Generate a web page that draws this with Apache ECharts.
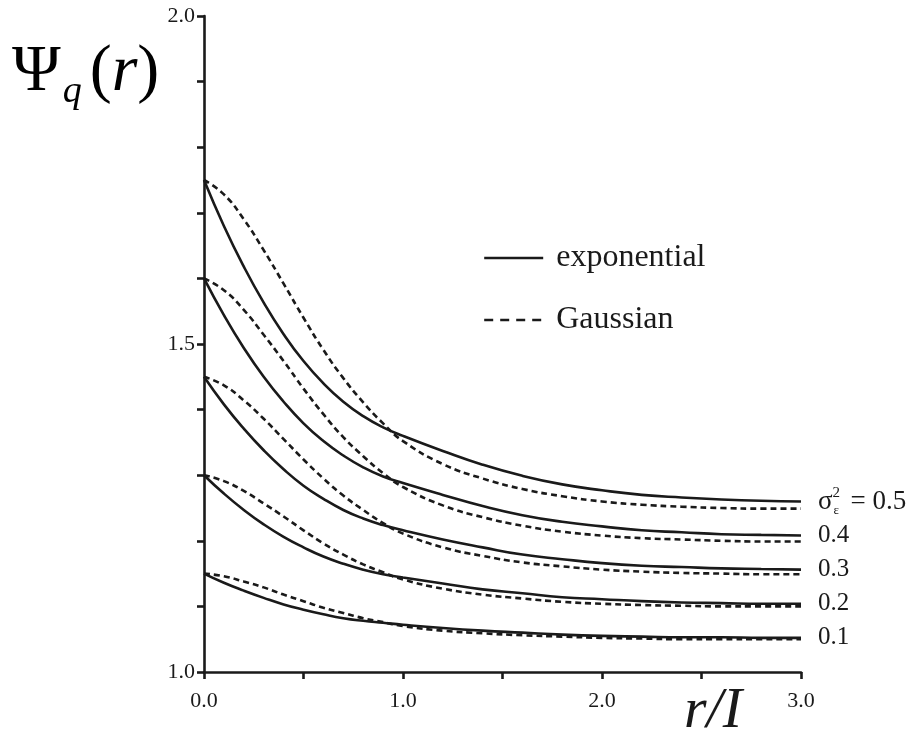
<!DOCTYPE html>
<html>
<head>
<meta charset="utf-8">
<title>Psi_q(r)</title>
<script src="https://cdn.jsdelivr.net/npm/echarts@6/dist/echarts.min.js"></script>
<style>
  html, body { margin: 0; padding: 0; background: #fff; }
  #chart { width: 911px; height: 730px; }
</style>
</head>
<body>
<div id="chart"></div>
<script>
// r/I sample points
var rVals = [0, 0.1, 0.2, 0.3, 0.4, 0.5, 0.6, 0.7, 0.8, 0.9, 1.0, 1.2, 1.4, 1.6, 1.8, 2.0, 2.2, 2.4, 2.6, 2.8, 3.0];

// exponential (solid)
var exp05 = [1.750, 1.680, 1.618, 1.563, 1.515, 1.474, 1.440, 1.412, 1.390, 1.373, 1.360, 1.337, 1.316, 1.299, 1.286, 1.277, 1.270, 1.266, 1.263, 1.261, 1.260];
var exp04 = [1.600, 1.544, 1.494, 1.450, 1.412, 1.379, 1.352, 1.330, 1.312, 1.298, 1.288, 1.270, 1.253, 1.239, 1.229, 1.222, 1.216, 1.213, 1.210, 1.209, 1.208];
var exp03 = [1.450, 1.408, 1.371, 1.338, 1.309, 1.284, 1.264, 1.247, 1.234, 1.224, 1.216, 1.202, 1.190, 1.179, 1.172, 1.166, 1.162, 1.160, 1.158, 1.157, 1.156];
var exp02 = [1.300, 1.272, 1.247, 1.225, 1.206, 1.190, 1.176, 1.165, 1.156, 1.149, 1.144, 1.135, 1.126, 1.120, 1.114, 1.111, 1.108, 1.106, 1.105, 1.104, 1.104];
var exp01 = [1.150, 1.136, 1.124, 1.113, 1.103, 1.095, 1.088, 1.082, 1.078, 1.075, 1.072, 1.067, 1.063, 1.060, 1.057, 1.055, 1.054, 1.053, 1.053, 1.052, 1.052];

// Gaussian (dashed)
var gau05 = [1.750, 1.728, 1.690, 1.643, 1.592, 1.540, 1.491, 1.448, 1.411, 1.379, 1.352, 1.317, 1.295, 1.279, 1.268, 1.260, 1.255, 1.252, 1.250, 1.249, 1.249];
var gau04 = [1.600, 1.582, 1.552, 1.514, 1.474, 1.432, 1.393, 1.358, 1.329, 1.303, 1.282, 1.254, 1.236, 1.223, 1.214, 1.208, 1.204, 1.202, 1.200, 1.199, 1.199];
var gau03 = [1.450, 1.437, 1.414, 1.386, 1.355, 1.324, 1.295, 1.269, 1.247, 1.227, 1.211, 1.190, 1.177, 1.167, 1.161, 1.156, 1.153, 1.151, 1.150, 1.149, 1.149];
var gau02 = [1.300, 1.291, 1.276, 1.257, 1.237, 1.216, 1.196, 1.179, 1.164, 1.152, 1.141, 1.127, 1.118, 1.112, 1.107, 1.104, 1.102, 1.101, 1.100, 1.100, 1.100];
var gau01 = [1.150, 1.146, 1.138, 1.129, 1.118, 1.108, 1.098, 1.090, 1.082, 1.076, 1.070, 1.063, 1.059, 1.056, 1.054, 1.052, 1.051, 1.050, 1.050, 1.050, 1.050];

var expSets = [exp05, exp04, exp03, exp02, exp01];
var gauSets = [gau05, gau04, gau03, gau02, gau01];
var sigmaLabels = ['0.5', '0.4', '0.3', '0.2', '0.1'];

var serif = '"Liberation Serif", "DejaVu Serif", serif';
var ink = '#1a1a1a';

function toPairs(ys) {
    var out = [];
    for (var i = 0; i < rVals.length; i++)
        out.push([rVals[i], ys[i]]);
    return out;
}

function lineSeries(name, ys, dashed, endText) {
    var s = {
        name: name,
        type: 'line',
        data: toPairs(ys),
        smooth: 0.5,
        symbol: 'none',
        silent: true,
        itemStyle: { color: ink },
        lineStyle: { color: ink, width: 2.6, type: dashed ? [6, 4] : 'solid' },
        z: dashed ? 2 : 3
    };
    if (endText) {
        s.endLabel = {
            show: true,
            distance: 17,
            formatter: function () { return endText; },
            fontFamily: serif,
            fontSize: 25,
            color: ink,
            rich: {
                s: { fontFamily: serif, fontSize: 27, color: ink, lineHeight: 32 },
                p: { fontFamily: serif, fontSize: 15, color: ink, verticalAlign: 'top', width: 1, lineHeight: 32 },
                e: { fontFamily: serif, fontSize: 13, color: ink, verticalAlign: 'bottom', width: 17, lineHeight: 32 },
                n: { fontFamily: serif, fontSize: 27, color: ink, lineHeight: 32 }
            }
        };
    }
    return s;
}

var series = [];
for (var k = 0; k < expSets.length; k++) {
    var txt = k === 0 ? '{s|σ}{p|2}{e|ε}{n|= ' + sigmaLabels[k] + '}' : sigmaLabels[k];
    series.push(lineSeries('exponential', expSets[k], false, txt));
}
for (var k = 0; k < gauSets.length; k++)
    series.push(lineSeries('Gaussian', gauSets[k], true, null));

var chart = echarts.init(document.getElementById('chart'));
var option = {
    animation: false,
    backgroundColor: '#fff',
    grid: { left: 204, top: 16, width: 597, height: 656 },
    legend: {
        orient: 'vertical',
        left: 483,
        top: 242,
        padding: 0,
        itemWidth: 59,
        itemHeight: 14,
        itemGap: 30,
        selectedMode: false,
        itemStyle: { opacity: 0 },
        formatter: function (name) { return ' ' + name; },
        textStyle: { fontFamily: serif, fontSize: 32, color: ink },
        data: [
            { name: 'exponential', lineStyle: { width: 2.4 } },
            { name: 'Gaussian', lineStyle: { width: 2.4, type: [9, 7] } }
        ]
    },
    xAxis: {
        type: 'value',
        min: 0,
        max: 3,
        interval: 0.5,
        axisLine: { show: true, lineStyle: { color: ink, width: 2.6 } },
        axisTick: { show: true, length: 7, lineStyle: { color: ink, width: 2.6 } },
        splitLine: { show: false },
        axisLabel: {
            margin: 18,
            fontFamily: serif,
            fontSize: 22,
            color: ink,
            formatter: function (v) { return Math.abs(v - Math.round(v)) < 1e-6 ? v.toFixed(1) : ''; }
        }
    },
    yAxis: {
        type: 'value',
        min: 1,
        max: 2,
        interval: 0.1,
        axisLine: { show: true, lineStyle: { color: ink, width: 2.6 } },
        axisTick: { show: true, length: 7, lineStyle: { color: ink, width: 2.6 } },
        splitLine: { show: false },
        axisLabel: {
            margin: 9,
            fontFamily: serif,
            fontSize: 22,
            color: ink,
            formatter: function (v) {
                var t = v * 2;
                return Math.abs(t - Math.round(t)) < 1e-6 ? v.toFixed(1) : '';
            }
        }
    },
    graphic: [
        {
            type: 'text', left: 12, top: 40,
            style: {
                text: '{a|Ψ}{q|q}{a|(}{i|r}{a|)}',
                rich: {
                    a: { fontFamily: serif, fontSize: 66, color: ink, lineHeight: 76 },
                    i: { fontFamily: serif, fontSize: 66, fontStyle: 'italic', color: ink, lineHeight: 76 },
                    q: { fontFamily: serif, fontSize: 38, fontStyle: 'italic', color: ink, verticalAlign: 'bottom', lineHeight: 76, padding: [0, 8, 0, 2] }
                }
            }
        },
        {
            type: 'text', left: 684, top: 683,
            style: { text: 'r/I', fontFamily: serif, fontSize: 58, fontStyle: 'italic', fill: ink }
        }
    ],
    series: series
};
chart.setOption(option);
</script>
</body>
</html>
